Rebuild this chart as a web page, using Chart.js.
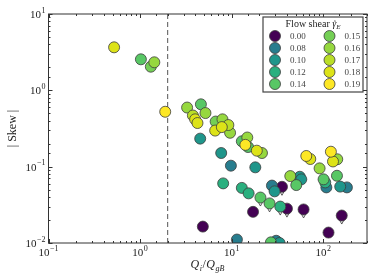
<!DOCTYPE html>
<html>
<head>
<meta charset="utf-8">
<script src="https://cdn.jsdelivr.net/npm/chart.js@4.4.1/dist/chart.umd.min.js"></script>
<style>
  html, body { margin: 0; padding: 0; background: #fff; }
</style>
</head>
<body>
<canvas id="skewChart" width="374" height="280"></canvas>
<script>
// flow shear levels and their viridis colours
const shearLevels = ['0.00', '0.08', '0.10', '0.12', '0.14', '0.15', '0.16', '0.17', '0.18', '0.19'];
const shearColors = ['#440154', '#287d8e', '#1f968b', '#2ab07f', '#58c765', '#74cf55', '#96d83f', '#bade28', '#dde318', '#fde725'];

// one entry per simulation
const qRatio = [
  1.88, 14.1, 65.2, 121,
  0.52, 3.99, 4.23, 6.6, 7.8, 18.8, 72.1, 127.6,
  3.77, 9.2,
  1.43, 3.26, 5.17, 9.6, 14.8, 21.4, 43.6, 91.1, 142, 7.93,
  1.31, 6.68,
  1.02, 4.61, 12.9, 15.1, 20.6, 25.9, 50.7, 100.7, 141, 26.8,
  8.07, 12.9, 15.3, 33.9, 105,
  4.53, 7.68, 18.1, 29.4, 55.4, 57.5, 153, 33.3,
  9.8, 27.5, 108, 181, 11.4, 30.6,
  4.84, 17.1, 35.4, 40.1, 60.9, 114, 159
];
const skewAbs = [
  0.524, 0.193, 0.138, 0.157,
  3.66, 0.417, 0.373, 0.297, 0.330, 0.162, 0.126, 0.117,
  0.468, 0.351,
  2.33, 0.595, 0.504, 0.278, 0.241, 0.151, 0.0753, 0.095, 0.125, 0.417,
  2.04, 0.390,
  2.55, 0.656, 0.215, 0.181, 0.0394, 0.033, 0.0574, 0.0682, 0.076, 0.0102,
  0.0604, 0.0527, 0.0447, 0.030, 0.0622,
  0.233, 0.151, 0.098, 0.0475, 0.0738, 0.0682, 0.0548, 0.0100,
  0.103, 0.0565, 0.0535, 0.0535, 0.0111, 0.0107,
  0.0164, 0.0256, 0.0545, 0.0282, 0.0275, 0.0137, 0.0229
];
const shearIdx = [
  9, 9, 9, 9,
  8, 8, 8, 8, 8, 8, 8, 8,
  7, 7,
  6, 6, 6, 6, 6, 6, 6, 6, 6, 6,
  5, 5,
  4, 4, 4, 4, 4, 4, 4, 4, 4, 4,
  3, 3, 3, 3, 3,
  2, 2, 2, 2, 2, 2, 2, 2,
  1, 1, 1, 1, 1, 1,
  0, 0, 0, 0, 0, 0, 0
];
// points marked with an open down-triangle
const hasBound = [
  0, 0, 0, 0,
  0, 0, 0, 0, 0, 0, 0, 0,
  0, 0,
  0, 0, 0, 0, 0, 0, 0, 0, 0, 0,
  0, 0,
  0, 0, 0, 0, 1, 1, 0, 0, 0, 0,
  0, 0, 0, 1, 0,
  0, 0, 0, 0, 0, 0, 0, 0,
  0, 0, 0, 0, 0, 0,
  0, 0, 1, 1, 1, 0, 1
];

const xDecades = [-1, 0, 1, 2];
const yDecades = [-2, -1, 0, 1];
const qCutoff = 2;

const SERIF = '"Liberation Serif", "DejaVu Serif", serif';
const INK = '#333';

const datasets = [{
  type: 'line',
  data: [{ x: qCutoff, y: 0.01 }, { x: qCutoff, y: 10 }],
  borderColor: '#555',
  borderWidth: 1,
  borderDash: [5, 3],
  pointRadius: 0,
  order: 100
}];

shearLevels.forEach((lvl, i) => {
  const pts = [];
  qRatio.forEach((q, k) => {
    if (shearIdx[k] === i) pts.push({ x: q, y: skewAbs[k] });
  });
  datasets.push({
    type: 'scatter',
    label: lvl,
    data: pts,
    backgroundColor: shearColors[i],
    borderColor: '#3c3c3c',
    borderWidth: 0.8,
    pointRadius: 5.5,
    pointHoverRadius: 5.5,
    clip: 0,
    order: 20 - i
  });
});

function powLabel(ctx, exp, x, y, align) {
  const base = '10';
  const sup = exp < 0 ? '\u2212' + (-exp) : String(exp);
  ctx.font = '11px ' + SERIF;
  const wb = ctx.measureText(base).width;
  ctx.font = '8px ' + SERIF;
  const ws = ctx.measureText(sup).width;
  const total = wb + 0.5 + ws;
  const left = align === 'center' ? x - total / 2 : x - total;
  ctx.textAlign = 'left';
  ctx.textBaseline = 'alphabetic';
  ctx.font = '11px ' + SERIF;
  ctx.fillText(base, left, y);
  ctx.font = '8px ' + SERIF;
  ctx.fillText(sup, left + wb + 0.5, y - 5.5);
}

const decorations = {
  id: 'decorations',
  beforeDatasetsDraw(chart) {
    const { ctx, scales: { x, y } } = chart;
    ctx.save();
    ctx.fillStyle = '#fff';
    ctx.strokeStyle = INK;
    ctx.lineWidth = 0.8;
    qRatio.forEach((q, k) => {
      if (!hasBound[k]) return;
      const px = x.getPixelForValue(q);
      const py = y.getPixelForValue(skewAbs[k]);
      ctx.beginPath();
      ctx.moveTo(px - 3, py + 3);
      ctx.lineTo(px + 3, py + 3);
      ctx.lineTo(px, py + 8.5);
      ctx.closePath();
      ctx.fill();
      ctx.stroke();
    });
    ctx.restore();
  },
  afterDraw(chart) {
    const { ctx, chartArea: a, scales: { x, y } } = chart;
    ctx.save();

    // frame
    ctx.strokeStyle = INK;
    ctx.lineWidth = 1;
    ctx.strokeRect(a.left, a.top, a.right - a.left, a.bottom - a.top);

    // inward ticks on all four sides
    const isMajor = v => Math.abs(Math.log10(v) - Math.round(Math.log10(v))) < 1e-6;
    ctx.beginPath();
    x.ticks.forEach(t => {
      const p = Math.round(x.getPixelForValue(t.value)) + 0.5;
      const len = isMajor(t.value) ? 4 : 2;
      ctx.moveTo(p, a.bottom); ctx.lineTo(p, a.bottom - len);
      ctx.moveTo(p, a.top); ctx.lineTo(p, a.top + len);
    });
    y.ticks.forEach(t => {
      const p = Math.round(y.getPixelForValue(t.value)) + 0.5;
      const len = isMajor(t.value) ? 4 : 2;
      ctx.moveTo(a.left, p); ctx.lineTo(a.left + len, p);
      ctx.moveTo(a.right, p); ctx.lineTo(a.right - len, p);
    });
    ctx.stroke();

    // tick labels
    ctx.fillStyle = '#222';
    xDecades.forEach(e => powLabel(ctx, e, x.getPixelForValue(Math.pow(10, e)), a.bottom + 13, 'center'));
    yDecades.forEach(e => powLabel(ctx, e, a.left - 3, y.getPixelForValue(Math.pow(10, e)) + 4, 'right'));

    // x axis title: Q_i / Q_gB
    const cx = (a.left + a.right) / 2;
    const by = 268;
    const parts = [
      { t: 'Q', f: 'italic 12px ' + SERIF, dy: 0 },
      { t: 'i', f: 'italic 8px ' + SERIF, dy: 2.5 },
      { t: '/', f: '12px ' + SERIF, dy: 0 },
      { t: 'Q', f: 'italic 12px ' + SERIF, dy: 0 },
      { t: 'gB', f: 'italic 8px ' + SERIF, dy: 2.5 }
    ];
    let tw = 0;
    parts.forEach(p => { ctx.font = p.f; p.w = ctx.measureText(p.t).width + 0.5; tw += p.w; });
    let xx = cx - tw / 2;
    ctx.textAlign = 'left';
    ctx.textBaseline = 'alphabetic';
    parts.forEach(p => { ctx.font = p.f; ctx.fillText(p.t, xx, by + p.dy); xx += p.w; });

    // y axis title
    ctx.save();
    ctx.translate(16, (a.top + a.bottom) / 2);
    ctx.rotate(-Math.PI / 2);
    ctx.font = '12px ' + SERIF;
    ctx.textAlign = 'center';
    ctx.fillText('| Skew |', 0, 0);
    ctx.restore();

    // legend box
    const bw = 100, bh = 75;
    const bx = a.right - 4 - bw, byTop = a.top + 3;
    ctx.fillStyle = '#fff';
    ctx.fillRect(bx, byTop, bw, bh);
    ctx.strokeStyle = '#444';
    ctx.lineWidth = 1.2;
    ctx.strokeRect(bx, byTop, bw, bh);

    // legend title: Flow shear γ̂_E
    const t1 = 'Flow shear ';
    ctx.font = '10px ' + SERIF;
    const w1 = ctx.measureText(t1).width;
    ctx.font = 'italic 10px ' + SERIF;
    const wg = ctx.measureText('\u03b3').width;
    ctx.font = 'italic 7px ' + SERIF;
    const we = ctx.measureText('E').width;
    let tx = bx + bw / 2 - (w1 + wg + we) / 2;
    const ty = byTop + 10;
    ctx.fillStyle = '#222';
    ctx.textAlign = 'left';
    ctx.font = '10px ' + SERIF;
    ctx.fillText(t1, tx, ty);
    tx += w1;
    ctx.font = 'italic 10px ' + SERIF;
    ctx.fillText('\u03b3', tx, ty);
    ctx.font = '7px ' + SERIF;
    ctx.fillText('^', tx + 1, ty - 3.5);
    tx += wg;
    ctx.font = 'italic 7px ' + SERIF;
    ctx.fillText('E', tx, ty + 2);

    // legend entries, two columns of five
    shearLevels.forEach((lvl, i) => {
      const col = Math.floor(i / 5), row = i % 5;
      const mx = bx + 12 + col * 54.5;
      const my = byTop + 19 + row * 12;
      ctx.beginPath();
      ctx.arc(mx, my, 5.5, 0, Math.PI * 2);
      ctx.fillStyle = shearColors[i];
      ctx.fill();
      ctx.strokeStyle = '#3c3c3c';
      ctx.lineWidth = 0.8;
      ctx.stroke();
      ctx.fillStyle = '#444';
      ctx.font = '9px ' + SERIF;
      ctx.textBaseline = 'middle';
      ctx.fillText(lvl, mx + 15, my + 0.5);
      ctx.textBaseline = 'alphabetic';
    });

    ctx.restore();
  }
};

new Chart(document.getElementById('skewChart'), {
  data: { datasets },
  options: {
    responsive: false,
    animation: false,
    devicePixelRatio: 1,
    layout: { padding: { top: 14, right: 7, left: 0, bottom: 0 } },
    plugins: {
      legend: { display: false },
      tooltip: { enabled: false }
    },
    scales: {
      x: {
        type: 'logarithmic',
        min: 0.1,
        max: 300,
        grid: { display: false },
        border: { display: false },
        ticks: { display: false },
        afterFit: s => { s.height = 37; }
      },
      y: {
        type: 'logarithmic',
        min: 0.01,
        max: 10,
        grid: { display: false },
        border: { display: false },
        ticks: { display: false },
        afterFit: s => { s.width = 48.5; }
      }
    }
  },
  plugins: [decorations]
});
</script>
</body>
</html>
